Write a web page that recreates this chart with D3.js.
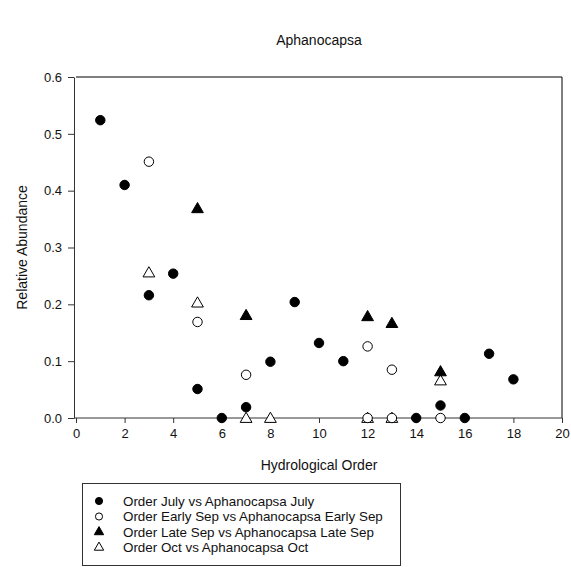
<!DOCTYPE html>
<html>
<head>
<meta charset="utf-8">
<script src="https://cdn.jsdelivr.net/npm/d3@7"></script>
<style>
  html, body { margin: 0; padding: 0; background: #fff; }
  svg { display: block; font-family: "Liberation Sans", Arial, sans-serif; }
</style>
</head>
<body>
<svg id="chart" width="571" height="567"></svg>
<script>
// Hydrological order vs relative abundance of Aphanocapsa, four sampling dates
const julyOrder = [1, 2, 3, 4, 5, 6, 7, 8, 9, 10, 11, 14, 15, 16, 17, 18];
const julyAbund = [0.524, 0.41, 0.216, 0.254, 0.051, 0, 0.019, 0.099, 0.204, 0.132, 0.1, 0, 0.022, 0, 0.113, 0.068];

const earlySepOrder = [3, 5, 7, 12, 12, 13, 13, 15];
const earlySepAbund = [0.451, 0.169, 0.076, 0.126, 0, 0.085, 0, 0];

const lateSepOrder = [5, 7, 12, 13, 15];
const lateSepAbund = [0.369, 0.181, 0.179, 0.167, 0.082];

const octOrder = [3, 5, 7, 8, 12, 13, 15];
const octAbund = [0.256, 0.203, 0, 0, 0, 0, 0.066];

const xTicks = [0, 2, 4, 6, 8, 10, 12, 14, 16, 18, 20];
const yTicks = [0.0, 0.1, 0.2, 0.3, 0.4, 0.5, 0.6];

const seriesNames = [
  "Order July vs Aphanocapsa July",
  "Order Early Sep vs Aphanocapsa Early Sep",
  "Order Late Sep vs Aphanocapsa Late Sep",
  "Order Oct vs Aphanocapsa Oct"
];

const series = [
  { name: seriesNames[0], xs: julyOrder, ys: julyAbund, shape: "circle", filled: true },
  { name: seriesNames[1], xs: earlySepOrder, ys: earlySepAbund, shape: "circle", filled: false },
  { name: seriesNames[2], xs: lateSepOrder, ys: lateSepAbund, shape: "triangle", filled: true },
  { name: seriesNames[3], xs: octOrder, ys: octAbund, shape: "triangle", filled: false }
];

const svg = d3.select("#chart");
const plot = { left: 76, right: 562, top: 77, bottom: 418 };

const x = d3.scaleLinear().domain([0, 20]).range([plot.left, plot.right]);
const y = d3.scaleLinear().domain([0, 0.6]).range([plot.bottom, plot.top]);

const fontSize = 13;

// frame: top and right edges
svg.append("line")
  .attr("x1", plot.left).attr("x2", plot.right)
  .attr("y1", plot.top).attr("y2", plot.top)
  .attr("stroke", "#808080").attr("stroke-width", 2);
svg.append("line")
  .attr("x1", plot.right).attr("x2", plot.right)
  .attr("y1", plot.top).attr("y2", plot.bottom)
  .attr("stroke", "#000").attr("stroke-width", 1);

// axes
const xAxis = d3.axisBottom(x).tickValues(xTicks).tickFormat(d3.format("d"))
  .tickSizeInner(5).tickSizeOuter(0).tickPadding(6);
const yAxis = d3.axisLeft(y).tickValues(yTicks).tickFormat(d3.format(".1f"))
  .tickSizeInner(6).tickSizeOuter(0).tickPadding(6);

const gx = svg.append("g").attr("transform", `translate(0,${plot.bottom})`).call(xAxis);
const gy = svg.append("g").attr("transform", `translate(${plot.left - 2},0)`).call(yAxis);

[gx, gy].forEach(g => {
  g.select(".domain").attr("stroke", "#333");
  g.selectAll(".tick line").attr("stroke", "#333");
  g.selectAll(".tick text")
    .attr("fill", "#111")
    .style("font-family", "'Liberation Sans', Arial, sans-serif")
    .style("font-size", fontSize + "px");
});
// the bottom axis runs across the full plot width
gx.select(".domain").attr("d", `M${plot.left - 2},0H${plot.right}`);

// symbol generators
const circleSym = d3.symbol().type(d3.symbolCircle).size(70);
const triSym = d3.symbol().type(d3.symbolTriangle).size(60);

function drawMarker(g, shape, filled) {
  const path = shape === "circle" ? circleSym() : triSym();
  g.append("path")
    .attr("d", path)
    .attr("fill", filled ? "#000" : "#fff")
    .attr("stroke", "#000")
    .attr("stroke-width", 1);
}

// points: draw later series first so July sits on top
const drawOrder = [3, 2, 1, 0];
drawOrder.forEach(i => {
  const s = series[i];
  const pts = s.xs.map((v, k) => ({ xv: v, yv: s.ys[k] }));
  const g = svg.append("g");
  pts.forEach(p => {
    const m = g.append("g")
      .attr("transform", `translate(${x(p.xv)},${y(p.yv) + (s.shape === "triangle" ? 1 : 0)})`);
    drawMarker(m, s.shape, s.filled);
  });
});

// title
svg.append("text")
  .attr("x", (plot.left + plot.right) / 2)
  .attr("y", 45)
  .attr("text-anchor", "middle")
  .style("font-size", "14px")
  .attr("fill", "#111")
  .text("Aphanocapsa");

// axis titles
svg.append("text")
  .attr("x", (plot.left + plot.right) / 2)
  .attr("y", 470)
  .attr("text-anchor", "middle")
  .style("font-size", "14px")
  .attr("fill", "#111")
  .text("Hydrological Order");

svg.append("text")
  .attr("transform", `translate(27,${(plot.top + plot.bottom) / 2}) rotate(-90)`)
  .attr("text-anchor", "middle")
  .style("font-size", "14px")
  .attr("fill", "#111")
  .text("Relative Abundance");

// legend
const legend = svg.append("g");
legend.append("rect")
  .attr("x", 82.5).attr("y", 483.5)
  .attr("width", 318).attr("height", 82)
  .attr("fill", "#fff").attr("stroke", "#333").attr("stroke-width", 1);

series.forEach((s, i) => {
  const rowY = 501 + i * 15.5;
  const m = legend.append("g").attr("transform", `translate(99,${rowY})`);
  const path = s.shape === "circle"
    ? d3.symbol().type(d3.symbolCircle).size(40)()
    : d3.symbol().type(d3.symbolTriangle).size(38)();
  m.append("path")
    .attr("d", path)
    .attr("fill", s.filled ? "#000" : "#fff")
    .attr("stroke", "#000").attr("stroke-width", 1);
  legend.append("text")
    .attr("x", 123).attr("y", rowY)
    .attr("dy", "0.35em")
    .style("font-size", "13.4px")
    .attr("fill", "#111")
    .text(s.name);
});
</script>
</body>
</html>
